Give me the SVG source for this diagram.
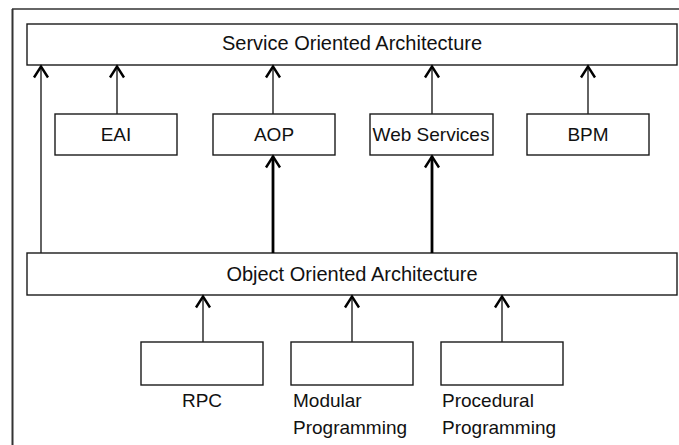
<svg xmlns="http://www.w3.org/2000/svg" width="679" height="445" viewBox="0 0 679 445">
<style>
.box{fill:#fff;stroke:#1a1a1a;stroke-width:1.4}
.lbl{font-family:"Liberation Sans",Arial,sans-serif;font-size:19px;fill:#111}
.big{font-size:20px}
.mid{text-anchor:middle}
.thin{stroke:#222;stroke-width:1.4;fill:none}
.thick{stroke:#000;stroke-width:2.8;fill:none}
.frame{stroke:#333;fill:none}
</style>
<defs>
<marker id="ah" markerUnits="userSpaceOnUse" viewBox="-14 -10 16 20" refX="0" refY="0" markerWidth="16" markerHeight="20" orient="auto" overflow="visible">
<path d="M-11,-7 L0,0 L-11,7" fill="none" stroke="#000" stroke-width="2.4" stroke-linejoin="miter"/>
</marker>
</defs>
<g id="frame">
<line class="frame" x1="12" y1="9" x2="679" y2="9" stroke-width="1.4"/>
<line class="frame" x1="12.5" y1="9" x2="12.5" y2="445" stroke-width="2"/>
</g>
<g id="soa">
<rect class="box" x="27" y="24" width="650" height="41"/>
<text class="lbl big mid" x="352" y="50">Service Oriented Architecture</text>
</g>
<g id="eai">
<rect class="box" x="55" y="114" width="122" height="41"/>
<text class="lbl mid" x="116" y="141">EAI</text>
</g>
<g id="aop">
<rect class="box" x="213" y="114" width="122" height="41"/>
<text class="lbl mid" x="274" y="141">AOP</text>
</g>
<g id="ws">
<rect class="box" x="370" y="114" width="123" height="41"/>
<text class="lbl mid" x="431" y="141">Web Services</text>
</g>
<g id="bpm">
<rect class="box" x="527" y="114" width="122" height="41"/>
<text class="lbl mid" x="588" y="141">BPM</text>
</g>
<g id="ooa">
<rect class="box" x="27" y="253" width="650" height="42"/>
<text class="lbl big mid" x="352" y="281">Object Oriented Architecture</text>
</g>
<g id="rpc">
<rect class="box" x="141" y="342" width="122" height="43"/>
<text class="lbl mid" x="202" y="407">RPC</text>
</g>
<g id="modular">
<rect class="box" x="291" y="342" width="122" height="43"/>
<text class="lbl" x="293" y="407">Modular</text>
<text class="lbl" x="293" y="434">Programming</text>
</g>
<g id="procedural">
<rect class="box" x="441" y="342" width="122" height="43"/>
<text class="lbl" x="442" y="407">Procedural</text>
<text class="lbl" x="442" y="434">Programming</text>
</g>
<g id="connectors">
<line class="thin" x1="41" y1="253" x2="41" y2="66.5" marker-end="url(#ah)"/>
<line class="thin" x1="117" y1="114" x2="117" y2="66.5" marker-end="url(#ah)"/>
<line class="thin" x1="273" y1="114" x2="273" y2="66.5" marker-end="url(#ah)"/>
<line class="thin" x1="432" y1="114" x2="432" y2="66.5" marker-end="url(#ah)"/>
<line class="thin" x1="588" y1="114" x2="588" y2="66.5" marker-end="url(#ah)"/>
<line class="thick" x1="273" y1="253" x2="273" y2="156.5" marker-end="url(#ah)"/>
<line class="thick" x1="432" y1="253" x2="432" y2="156.5" marker-end="url(#ah)"/>
<line class="thin" x1="203" y1="342" x2="203" y2="296.5" marker-end="url(#ah)"/>
<line class="thin" x1="352" y1="342" x2="352" y2="296.5" marker-end="url(#ah)"/>
<line class="thin" x1="502" y1="342" x2="502" y2="296.5" marker-end="url(#ah)"/>
</g>
</svg>
